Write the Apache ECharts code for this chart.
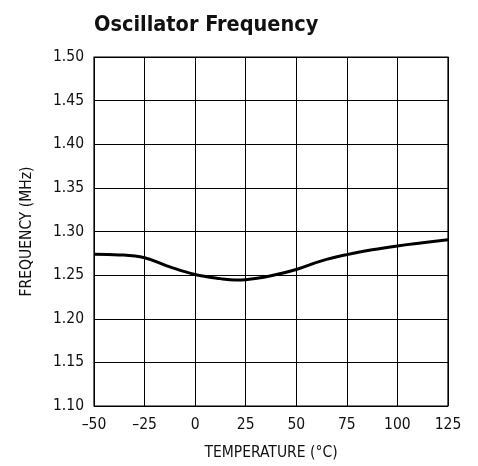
<!DOCTYPE html>
<html><head><meta charset="utf-8">
<script src="https://cdn.jsdelivr.net/npm/echarts@6/dist/echarts.min.js"></script>
<style>html,body{margin:0;padding:0;background:#fff}#c{width:478px;height:466px}</style>
</head><body><div id="c"></div>
<script>
const temperature = [-50, -37.5, -25, -12.5, 0, 12.5, 20, 25, 37.5, 50, 62.5, 75, 87.5, 100, 112.5, 125];
const frequency = [1.2738, 1.2732, 1.2700, 1.2595, 1.2508, 1.2460, 1.2444, 1.2448, 1.2493, 1.2565, 1.2664, 1.2735, 1.2790, 1.2834, 1.2870, 1.2905];
const xTicks = [-50, -25, 0, 25, 50, 75, 100, 125];
const yTicks = [1.10, 1.15, 1.20, 1.25, 1.30, 1.35, 1.40, 1.45, 1.50];
const FONT = '"Liberation Sans Narrow", "DejaVu Sans Condensed", "Liberation Sans", sans-serif';
const chart = echarts.init(document.getElementById('c'), null, {renderer: 'canvas'});
chart.setOption({
  animation: false,
  backgroundColor: '#fff',
  title: {
    text: 'Oscillator Frequency', left: 89, top: 9,
    textStyle: {fontFamily: FONT, fontWeight: 'bold', fontSize: 21.5, color: '#111'}
  },
  grid: {left: 94, right: 30, top: 57, bottom: 57, show: true, borderColor: '#000', borderWidth: 1.2},
  xAxis: {
    type: 'value', min: -50, max: 125, interval: 25,
    name: 'TEMPERATURE (°C)', nameLocation: 'middle', nameGap: 39,
    nameTextStyle: {fontFamily: FONT, fontSize: 15.5, color: '#111'},
    axisLine: {show: false}, axisTick: {show: false},
    axisLabel: {fontFamily: FONT, fontSize: 15.5, color: '#111', margin: 11,
      formatter: v => xTicks.includes(v) ? (v < 0 ? '\u2013' + Math.abs(v) : String(v)) : ''},
    splitLine: {show: true, lineStyle: {color: '#000', width: 1}}
  },
  yAxis: {
    type: 'value', min: 1.10, max: 1.50, interval: 0.05,
    name: 'FREQUENCY (MHz)', nameLocation: 'middle', nameGap: 59, nameRotate: 90,
    nameTextStyle: {fontFamily: FONT, fontSize: 15.5, color: '#111'},
    axisLine: {show: false}, axisTick: {show: false},
    axisLabel: {fontFamily: FONT, fontSize: 15.5, color: '#111', margin: 10,
      formatter: v => yTicks.some(t => Math.abs(t - v) < 1e-9) ? v.toFixed(2) : ''},
    splitLine: {show: true, lineStyle: {color: '#000', width: 1}}
  },
  series: [{
    type: 'line', data: temperature.map((t, i) => [t, frequency[i]]),
    smooth: 0.4, showSymbol: false, lineStyle: {color: '#000', width: 3}
  }]
});
</script></body></html>
